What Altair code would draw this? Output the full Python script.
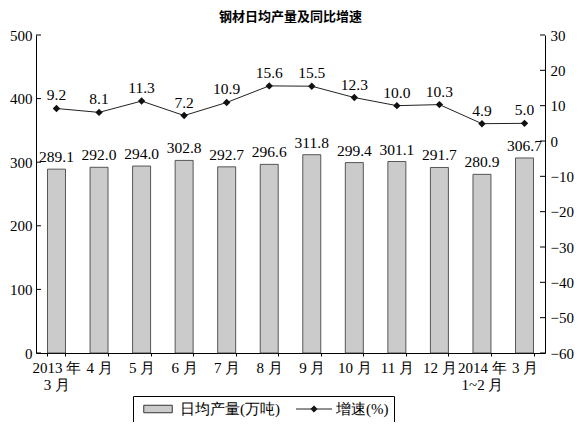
import altair as alt
import pandas as pd

months = ["2013 年\n3 月", "4 月", "5 月", "6 月", "7 月", "8 月", "9 月",
          "10 月", "11 月", "12 月", "2014 年\n1~2 月", "3 月"]
production = [289.1, 292.0, 294.0, 302.8, 292.7, 296.6, 311.8, 299.4, 301.1, 291.7, 280.9, 306.7]
growth = [9.2, 8.1, 11.3, 7.2, 10.9, 15.6, 15.5, 12.3, 10.0, 10.3, 4.9, 5.0]
left_ticks = [0, 100, 200, 300, 400, 500]
right_ticks = [-60, -50, -40, -30, -20, -10, 0, 10, 20, 30]
series_names = ["日均产量(万吨)", "增速(%)"]

W, H = 509, 318
FONT = "Liberation Serif"
BAR_FILL = "#cbcbcb"

df = pd.DataFrame({"month": months, "prod": production, "growth": growth})
df_lt = pd.DataFrame({"v": left_ticks})
df_rt = pd.DataFrame({"v": right_ticks})
df_leg = pd.DataFrame({"series": pd.Series([], dtype=str)})

x_axis = alt.Axis(title=None, labelAngle=0, labelExpr="split(datum.label, '\\n')",
                  labelFont=FONT, labelFontSize=15, labelColor="black",
                  labelLineHeight=17, labelPadding=4, tickSize=3, tickBand="extent",
                  tickColor="black", domainColor="black", labelBaseline="top")
x_scale = alt.Scale(paddingInner=0.577, paddingOuter=0.27)

left_axis = alt.Axis(title=None, values=left_ticks, tickSize=0, labelFont=FONT,
                     labelFontSize=15, labelColor="black", domainColor="black",
                     labelPadding=4, grid=False)
right_axis = alt.Axis(title=None, orient="right", values=right_ticks, tickSize=0,
                      labelFont=FONT, labelFontSize=15, labelColor="black",
                      domainColor="black", labelPadding=5, grid=False)

yl_scale = alt.Scale(domain=[0, 500], nice=False, zero=False)
yr_scale = alt.Scale(domain=[-60, 30], nice=False, zero=False)


def X():
    return alt.X("month:N", sort=months, scale=x_scale, axis=x_axis)


bars = alt.Chart(df).mark_bar(fill=BAR_FILL, stroke="#333333", strokeWidth=0.8).encode(
    x=X(), y=alt.Y("prod:Q", scale=yl_scale, axis=left_axis))

bar_text = alt.Chart(df).mark_text(baseline="alphabetic", dy=-7, font=FONT, fontSize=15.5,
                                   color="black").encode(
    x=X(), y=alt.Y("prod:Q", scale=yl_scale, axis=left_axis),
    text=alt.Text("prod:Q", format=".1f"))

lticks = alt.Chart(df_lt).mark_rule(color="black", strokeWidth=1).encode(
    y=alt.Y("v:Q", scale=yl_scale, axis=left_axis), x=alt.value(0), x2=alt.value(5))

left_layer = alt.layer(bars, bar_text, lticks)

line = alt.Chart(df).mark_line(color="#222222", strokeWidth=1).encode(
    x=X(), y=alt.Y("growth:Q", scale=yr_scale, axis=right_axis))

pts = alt.Chart(df).mark_point(shape="diamond", filled=True, color="#111111", size=55,
                               opacity=1).encode(
    x=X(), y=alt.Y("growth:Q", scale=yr_scale, axis=right_axis))

line_text = alt.Chart(df).mark_text(baseline="alphabetic", dy=-8, font=FONT, fontSize=15.5,
                                    color="black").encode(
    x=X(), y=alt.Y("growth:Q", scale=yr_scale, axis=right_axis),
    text=alt.Text("growth:Q", format=".1f"))

rticks = alt.Chart(df_rt).mark_rule(color="black", strokeWidth=1).encode(
    y=alt.Y("v:Q", scale=yr_scale, axis=right_axis), x=alt.value(W - 5), x2=alt.value(W))

right_layer = alt.layer(line, pts, line_text, rticks)

leg = alt.Legend(title=None, orient="none", legendX=97, legendY=361,
                 direction="horizontal", strokeColor="black", padding=5,
                 symbolSize=225, symbolStrokeWidth=1,
                 labelFont=FONT, labelFontSize=15, labelColor="black",
                 symbolOffset=12, labelOffset=14, columnPadding=14)

legend_layer = alt.Chart(df_leg).mark_point(filled=True, opacity=1).encode(
    fill=alt.Fill("series:N", scale=alt.Scale(domain=series_names, range=[BAR_FILL, "#111111"]),
                  legend=leg),
    stroke=alt.Stroke("series:N", scale=alt.Scale(domain=series_names, range=["#333333", "#222222"]),
                      legend=leg),
    shape=alt.Shape("series:N", scale=alt.Scale(domain=series_names, range=[
        "M-1.9,-0.5H1.9V0.5H-1.9Z",
        "M-2.4,0H2.4M0,-0.42L0.42,0L0,0.42L-0.42,0Z"]), legend=leg),
)

chart = alt.layer(left_layer, right_layer, legend_layer).resolve_scale(y="independent").properties(
    width=W, height=H,
    padding={"left": 28, "top": 27, "right": 34, "bottom": 69},
    autosize=alt.AutoSizeParams(type="none"),
    title=alt.Title("钢材日均产量及同比增速", font="Noto Sans CJK SC", fontSize=13,
                    fontWeight="bold", color="black", anchor="middle", frame="group", offset=4),
).configure_view(stroke=None)

chart.save("out.html", embed_options={"renderer": "svg", "actions": False})
